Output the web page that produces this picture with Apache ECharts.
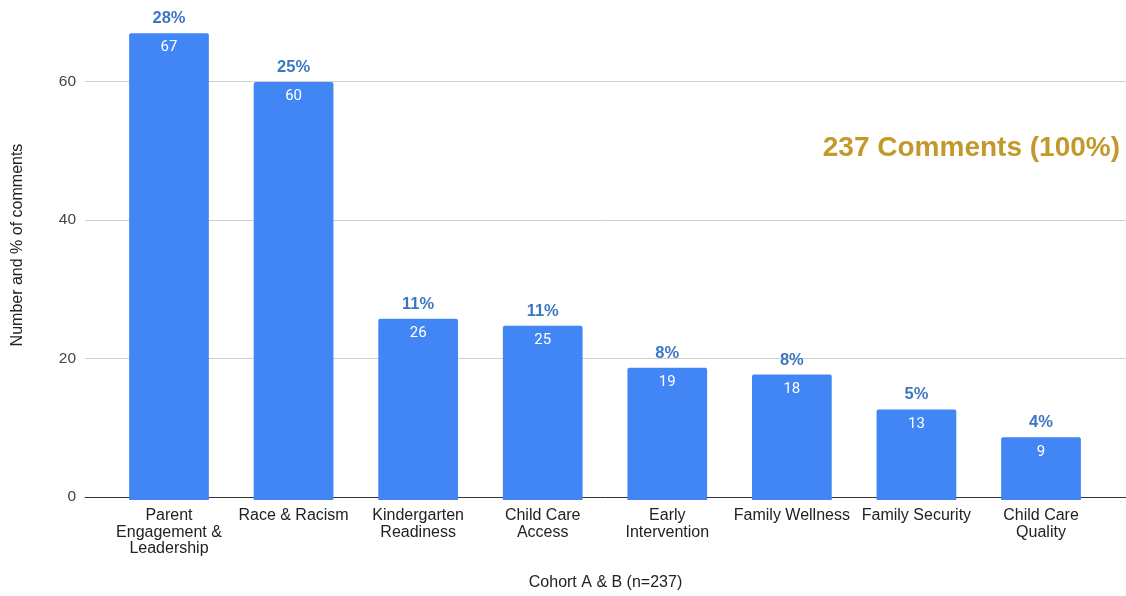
<!DOCTYPE html>
<html>
<head>
<meta charset="utf-8">
<script src="https://cdn.jsdelivr.net/npm/echarts@6/dist/echarts.min.js"></script>
<style>
  html, body { margin: 0; padding: 0; background: #fff; }
  #chart { width: 1126px; height: 596px; }
</style>
</head>
<body>
<div id="chart"></div>
<script>
// Comment topics (labels wrap the way they are shown under the axis)
const categories = [
  'Parent\nEngagement &\nLeadership',
  'Race & Racism',
  'Kindergarten\nReadiness',
  'Child Care\nAccess',
  'Early\nIntervention',
  'Family Wellness',
  'Family Security',
  'Child Care\nQuality'
];
// Number of comments per topic
const counts = [67, 60, 26, 25, 19, 18, 13, 9];
// Share of all comments, in percent
const shares = [28, 25, 11, 11, 8, 8, 5, 4];
const totalLabel = '237 Comments (100%)';
const xTitle = 'Cohort A & B (n=237)';
const yTitle = 'Number and % of comments';

const Y_MAX = 69;
const PX_PER_UNIT = 418 / 60;
const SANS = '"Liberation Sans", Arial, sans-serif';
const chart = echarts.init(document.getElementById('chart'));

chart.setOption({
  animation: false,
  textStyle: { fontFamily: SANS },
  grid: [
    { left: 85, right: 0, top: 500 - Y_MAX * PX_PER_UNIT, bottom: 96 },
    { left: 106.7, right: 22.7, top: 500 - Y_MAX * PX_PER_UNIT, bottom: 96 }
  ],
  xAxis: [
    {
      gridIndex: 0, type: 'value', min: 0, max: 1,
      axisLine: { show: true, lineStyle: { color: '#333', width: 1 } },
      axisTick: { show: false }, axisLabel: { show: false }, splitLine: { show: false },
      name: xTitle, nameLocation: 'middle', nameGap: 78,
      nameTextStyle: { fontSize: 16, color: '#222', fontFamily: SANS }
    },
    {
      gridIndex: 1, type: 'category', data: categories,
      axisLine: { show: false }, axisTick: { show: false },
      axisLabel: {
        fontSize: 16, color: '#222', lineHeight: 16.5, margin: 7.5,
        interval: 0, fontFamily: SANS
      }
    }
  ],
  yAxis: [
    {
      gridIndex: 0, type: 'value', min: 0, max: Y_MAX, interval: 20,
      axisLine: { show: false }, axisTick: { show: false },
      axisLabel: { fontSize: 15.5, color: '#444', margin: 9, showMaxLabel: false, fontFamily: SANS },
      splitLine: { show: true, showMaxLine: false, lineStyle: { color: '#cfcfcf', width: 1 } }
    },
    {
      gridIndex: 1, type: 'value', min: 0, max: Y_MAX, interval: 20,
      axisLine: { show: false }, axisTick: { show: false },
      axisLabel: { show: false }, splitLine: { show: false }
    }
  ],
  series: [
    {
      type: 'bar', xAxisIndex: 1, yAxisIndex: 1,
      data: counts, barWidth: '64%', barGap: '-100%',
      itemStyle: { color: '#4285f4', borderRadius: [2, 2, 0, 0] },
      label: {
        show: true, position: 'insideTop', distance: 7,
        color: '#fff', fontSize: 15, fontFamily: 'Roboto, sans-serif'
      },
      z: 3
    },
    {
      // transparent twin of the bars, used to place the percentage labels
      type: 'bar', xAxisIndex: 1, yAxisIndex: 1,
      data: counts, barWidth: '64%', barGap: '-100%',
      itemStyle: { color: 'rgba(0,0,0,0)' },
      label: {
        show: true, position: 'top', distance: 6,
        color: '#3b78c2', fontSize: 16.5, fontWeight: 'bold',
        fontFamily: SANS,
        formatter: p => shares[p.dataIndex] + '%'
      },
      silent: true, z: 4
    }
  ],
  graphic: [
    {
      type: 'text', x: 18, y: 245, rotation: Math.PI / 2,
      style: {
        text: yTitle, fill: '#222', align: 'center', verticalAlign: 'middle',
        font: '16px ' + SANS
      }
    },
    {
      type: 'text', x: 1120, y: 148,
      style: {
        text: totalLabel, fill: '#c4992b', align: 'right', verticalAlign: 'middle',
        font: 'bold 28px ' + SANS
      }
    }
  ]
});
</script>
</body>
</html>
